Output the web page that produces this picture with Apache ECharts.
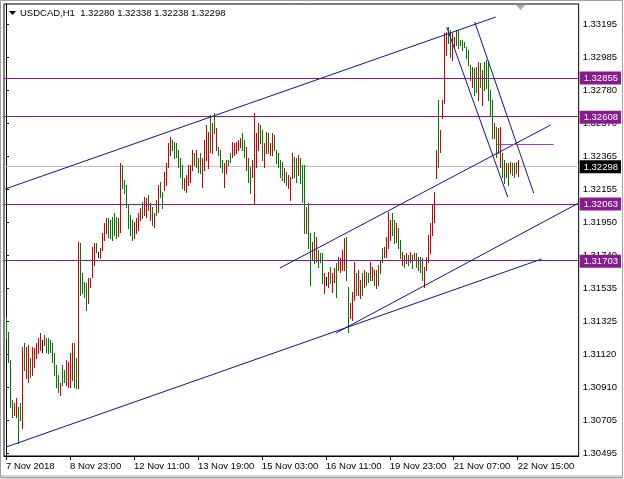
<!DOCTYPE html>
<html><head><meta charset="utf-8">
<script src="https://cdn.jsdelivr.net/npm/echarts@6/dist/echarts.min.js"></script>
<style>html,body{margin:0;padding:0;background:#fff}#c{width:624px;height:479px}</style>
</head><body><div id="c"></div>
<script>
// ---------------- data ----------------
const symbolName = 'USDCAD,H1';
const lastOHLC = ['1.32280', '1.32338', '1.32238', '1.32298'];
const timeLabels = ['7 Nov 2018', '8 Nov 23:00', '12 Nov 11:00', '13 Nov 19:00', '15 Nov 03:00',
  '16 Nov 11:00', '19 Nov 23:00', '21 Nov 07:00', '22 Nov 15:00'];
const timeLabelBars = [0, 32, 64, 96, 128, 160, 192, 224, 256];
const priceTicks = [1.33195, 1.32985, 1.32780, 1.32570, 1.32365, 1.32155, 1.31950, 1.31740,
  1.31535, 1.31325, 1.31120, 1.30910, 1.30705, 1.30495];
const highs = [
1.31352,1.31257,1.31082,1.30830,1.30811,1.30843,1.30786,1.30811,1.31163,1.31188,
1.31163,1.31176,1.31095,1.31163,1.31157,1.31188,1.31220,1.31251,1.31207,1.31239,
1.31220,1.31220,1.31207,1.31188,1.31126,1.31051,1.30988,1.30937,1.31051,1.31019,
1.31082,1.31069,1.31126,1.31188,1.31188,1.31095,1.31823,1.31817,1.31629,1.31572,
1.31566,1.31598,1.31598,1.31792,1.31817,1.31817,1.31761,1.31786,1.31880,1.31943,
1.31975,1.31975,1.31962,1.31981,1.32006,1.31981,1.31975,1.32321,1.32309,1.32214,
1.32183,1.32057,1.31994,1.31962,1.31949,1.31975,1.32006,1.32038,1.32075,1.32107,
1.32101,1.32120,1.32069,1.32044,1.32006,1.32088,1.32183,1.32201,1.32138,1.32264,
1.32321,1.32446,1.32484,1.32465,1.32452,1.32446,1.32402,1.32352,1.32309,1.32227,
1.32246,1.32309,1.32309,1.32402,1.32383,1.32402,1.32352,1.32383,1.32352,1.32465,
1.32560,1.32515,1.32623,1.32572,1.32635,1.32541,1.32421,1.32402,1.32340,1.32321,
1.32340,1.32340,1.32383,1.32452,1.32446,1.32452,1.32465,1.32478,1.32509,1.32465,
1.32421,1.32352,1.32296,1.32340,1.32635,1.32509,1.32572,1.32560,1.32528,1.32446,
1.32515,1.32509,1.32446,1.32509,1.32497,1.32402,1.32383,1.32340,1.32327,1.32290,
1.32264,1.32246,1.32233,1.32383,1.32358,1.32352,1.32371,1.32352,1.32309,1.32309,
1.32044,1.32069,1.31880,1.31823,1.31886,1.31855,1.31774,1.31755,1.31755,1.31629,
1.31604,1.31635,1.31667,1.31629,1.31660,1.31692,1.31730,1.31724,1.31774,1.31849,
1.31855,1.31541,1.31440,1.31509,1.31698,1.31629,1.31648,1.31585,1.31629,1.31648,
1.31635,1.31629,1.31698,1.31667,1.31648,1.31648,1.31680,1.31711,1.31786,1.31792,
1.31855,1.32012,1.31962,1.32006,1.31962,1.31943,1.31912,1.31836,1.31761,1.31742,
1.31755,1.31742,1.31761,1.31742,1.31755,1.31755,1.31730,1.31730,1.31724,1.31667,
1.31730,1.31868,1.31943,1.32057,1.32138,1.32402,1.32717,1.32528,1.32717,1.33138,
1.33144,1.33176,1.33157,1.33138,1.33113,1.33157,1.33157,1.33094,1.33094,1.33081,
1.33050,1.33031,1.32938,1.32925,1.32919,1.32925,1.32956,1.32950,1.32906,1.32956,
1.32969,1.32956,1.32780,1.32717,1.32572,1.32547,1.32541,1.32547,1.32383,1.32340,
1.32321,1.32321,1.32327,1.32321,1.32321,1.32327,1.32338];
const lows = [
1.31220,1.31069,1.30786,1.30723,1.30736,1.30723,1.30560,1.30704,1.30654,1.31019,
1.30969,1.30943,1.30975,1.30988,1.31038,1.31095,1.31126,1.31145,1.31132,1.31176,
1.31132,1.31126,1.31132,1.31069,1.30988,1.30912,1.30880,1.30862,1.30925,1.30943,
1.30925,1.30912,1.30912,1.30956,1.30912,1.30906,1.30906,1.31491,1.31503,1.31478,
1.31396,1.31440,1.31541,1.31604,1.31680,1.31761,1.31730,1.31724,1.31774,1.31836,
1.31880,1.31855,1.31849,1.31836,1.31868,1.31849,1.31861,1.31886,1.32164,1.32132,
1.32044,1.31912,1.31868,1.31836,1.31849,1.31880,1.31899,1.31962,1.31975,1.31994,
1.31981,1.32025,1.31962,1.31931,1.31918,1.31994,1.32012,1.32107,1.32038,1.32151,
1.32183,1.32296,1.32371,1.32402,1.32352,1.32358,1.32296,1.32233,1.32164,1.32151,
1.32138,1.32183,1.32201,1.32277,1.32309,1.32296,1.32264,1.32258,1.32170,1.32277,
1.32340,1.32290,1.32389,1.32383,1.32509,1.32402,1.32371,1.32296,1.32264,1.32170,
1.32258,1.32309,1.32327,1.32358,1.32371,1.32383,1.32402,1.32421,1.32402,1.32358,
1.32277,1.32201,1.32132,1.32233,1.32069,1.32296,1.32402,1.32446,1.32340,1.32296,
1.32383,1.32383,1.32371,1.32371,1.32402,1.32321,1.32296,1.32233,1.32214,1.32201,
1.32183,1.32164,1.32088,1.32227,1.32233,1.32201,1.32246,1.32195,1.32075,1.31880,
1.31880,1.31786,1.31554,1.31711,1.31692,1.31698,1.31667,1.31698,1.31566,1.31503,
1.31554,1.31541,1.31566,1.31509,1.31572,1.31478,1.31648,1.31635,1.31648,1.31648,
1.31585,1.31257,1.31346,1.31333,1.31459,1.31491,1.31491,1.31472,1.31491,1.31541,
1.31554,1.31572,1.31585,1.31585,1.31554,1.31535,1.31554,1.31629,1.31698,1.31730,
1.31730,1.31786,1.31836,1.31868,1.31817,1.31823,1.31786,1.31724,1.31680,1.31667,
1.31692,1.31680,1.31698,1.31660,1.31711,1.31667,1.31648,1.31635,1.31585,1.31541,
1.31648,1.31698,1.31755,1.31868,1.31949,1.32227,1.32296,1.32389,1.32604,1.32698,
1.33000,1.33075,1.32987,1.32969,1.33044,1.33063,1.33044,1.33063,1.33031,1.33050,
1.32981,1.32938,1.32843,1.32799,1.32749,1.32767,1.32717,1.32799,1.32686,1.32780,
1.32793,1.32717,1.32623,1.32478,1.32478,1.32358,1.32383,1.32296,1.32233,1.32195,
1.32233,1.32183,1.32258,1.32246,1.32233,1.32258,1.32238];
// bar direction per bar: u = up (close > open), d = down, n = unchanged
const dirs = [
  'dddduuddud', 'uuduuuuunu', 'dddddddudd', 'uuuudduddd', 'duuuudnuuu',
  'uddddduudd', 'dddduuuudu', 'ududududdu', 'uuuddddddu', 'uuuududduu',
  'uudududddu', 'udduuuuudd', 'udduuuuddu', 'uduudddddu', 'duuudduddd',
  'uddududddu', 'nuduuduuuu', 'dduuuduudu', 'dduudududu', 'uuudduddud',
  'ududududdu', 'uuuuuuduuu', 'udduuddddd', 'ddduddudud', 'dddduduudd',
  'udududu'
].join('');
const levelPrices = [1.32855, 1.32608, 1.32063, 1.31703];
const bidPrice = 1.32298;
const trendLines = [
  [[0, 1.30534], [268, 1.31717]],
  [[-0.5, 1.32157], [245, 1.33239]],
  [[137, 1.31660], [272.5, 1.32560]],
  [[165, 1.31251], [286.5, 1.32069]],
  [[220.5, 1.33176], [251, 1.32107]],
  [[234.5, 1.33208], [264, 1.32132]]
];
const shortLevel = [[245.5, 1.32432], [274, 1.32432]];
const xMin = -1, xMax = 286.5;
const yMin = 1.30478, yMax = 1.33321;

// ---------------- chart ----------------
const FONT = "'Liberation Sans', Arial, sans-serif";
const FS = 9.5;
const chart = echarts.init(document.getElementById('c'), null, {renderer: 'canvas'});

const barData = highs.map((h, i) => [i, h, lows[i]]);
const barColors = {u: '#d40000', d: '#007c00', n: '#000000'};

// straight segments; horizontal ones drawn as 1px filled rects on even pixel rows
function segSeries(name, segs, color, z) {
  return {
    type: 'custom', name: name, silent: true, z: z,
    data: segs.map(s => [s[0][0], s[0][1], s[1][0], s[1][1]]),
    renderItem: function (params, api) {
      const a = api.coord([api.value(0), api.value(1)]);
      const b = api.coord([api.value(2), api.value(3)]);
      if (Math.abs(a[1] - b[1]) < 0.01) {
        return {type: 'rect', shape: {x: a[0], y: 2 * Math.floor(a[1] / 2), width: b[0] - a[0], height: 1},
          style: {fill: color, stroke: null}};
      }
      return {type: 'line', shape: {x1: a[0], y1: a[1], x2: b[0], y2: b[1]},
        style: {stroke: color, lineWidth: 1, fill: null}};
    }
  };
}

const option = {
  animation: false,
  backgroundColor: '#ffffff',
  title: {
    text: symbolName + '  ' + lastOHLC.join(' '),
    left: 20, top: 8, padding: 0,
    textStyle: {fontSize: FS, fontWeight: 'normal', fontFamily: FONT, color: '#000'}
  },
  graphic: [
    {type: 'rect', shape: {x: 0.5, y: 0.5, width: 622, height: 477}, style: {fill: null, stroke: '#a0a0a0', lineWidth: 1}, z: 100},
    {type: 'rect', shape: {x: 1, y: 475, width: 622, height: 4}, style: {fill: '#d8d8d8'}, z: 99},
    {type: 'polygon', shape: {points: [[9, 11], [16, 11], [12.5, 15]]}, style: {fill: '#000'}, z: 100},
    {type: 'polygon', shape: {points: [[516, 5], [525, 5], [520.5, 10]]}, style: {fill: '#a8a8a8'}, z: 100}
  ],
  grid: {left: 4, right: 45, top: 4, bottom: 23, show: true, borderColor: '#000', borderWidth: 1, backgroundColor: '#fff'},
  xAxis: {
    type: 'value', min: xMin, max: xMax,
    splitLine: {show: false},
    axisLine: {show: true, lineStyle: {color: '#000'}},
    axisTick: {show: true, customValues: timeLabelBars, length: 4, lineStyle: {color: '#000'}},
    axisLabel: {
      customValues: timeLabelBars, align: 'left', margin: 5,
      formatter: v => timeLabels[timeLabelBars.indexOf(Math.round(v))] || '',
      fontFamily: FONT, fontSize: FS, color: '#000'
    }
  },
  yAxis: [{
    type: 'value', position: 'right', min: yMin, max: yMax,
    splitLine: {show: false},
    axisLine: {show: true, lineStyle: {color: '#000'}},
    axisTick: {show: true, customValues: priceTicks, length: 3, lineStyle: {color: '#000'}},
    axisLabel: {
      customValues: priceTicks, margin: 4, formatter: v => v.toFixed(5),
      fontFamily: FONT, fontSize: FS, color: '#000'
    }
  }, {
    type: 'value', position: 'right', min: yMin, max: yMax, z: 5,
    splitLine: {show: false}, axisLine: {show: false}, axisTick: {show: false},
    axisLabel: {
      customValues: levelPrices.concat([bidPrice]), margin: 1,
      formatter: v => (Math.abs(v - bidPrice) < 1e-7 ? '{b|' : '{p|') + v.toFixed(5) + '}',
      rich: {
        p: {backgroundColor: '#881a8e', color: '#fff', padding: [2, 3, 1, 4], fontFamily: FONT, fontSize: FS},
        b: {backgroundColor: '#000', color: '#fff', padding: [2, 3, 1, 4], fontFamily: FONT, fontSize: FS}
      }
    }
  }],
  series: [
    segSeries('bid', [[[xMin, bidPrice], [xMax, bidPrice]]], '#c0c0c0', 1),
    {
      type: 'custom', name: 'bars', z: 2, silent: true,
      data: barData,
      encode: {x: 0, y: [1, 2]},
      renderItem: function (params, api) {
        const i = api.value(0);
        const t = api.coord([i, api.value(1)]);
        const b = api.coord([i, api.value(2)]);
        const col = barColors[dirs.charAt(params.dataIndex)] || '#000';
        const y1 = Math.round(t[1]);
        return {type: 'rect',
          shape: {x: Math.round(t[0]), y: y1, width: 1, height: Math.max(1, Math.round(b[1]) + 1 - y1)},
          style: {fill: col, stroke: null}};
      }
    },
    segSeries('levels', levelPrices.map(v => [[xMin, v], [xMax, v]]), '#881a8e', 3),
    segSeries('trend', trendLines, '#10109e', 4),
    segSeries('short', [shortLevel], '#a040c8', 4)
  ]
};
chart.setOption(option);
</script></body></html>
